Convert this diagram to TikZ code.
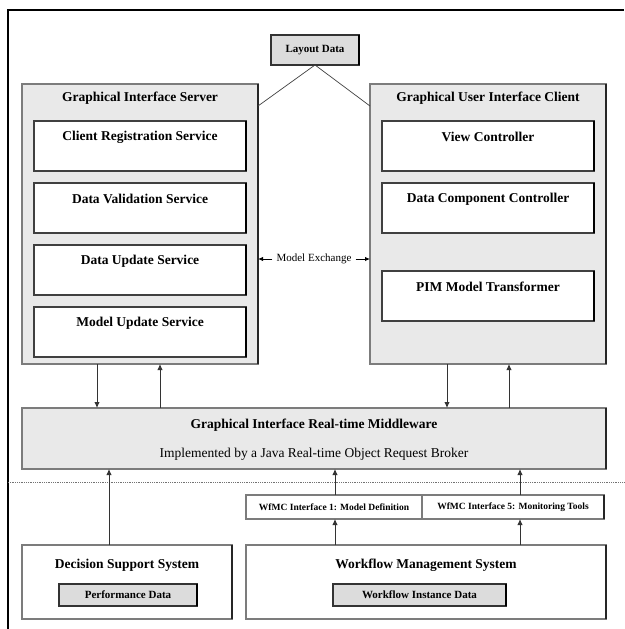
\documentclass[tikz,border=0pt]{standalone}
\usepackage{fontspec}
\setmainfont{Liberation Serif}
\usetikzlibrary{arrows.meta}
\definecolor{panelfill}{HTML}{E9E9E9}
\definecolor{datafill}{HTML}{DCDCDC}
\definecolor{edgegray}{HTML}{7C7C7C}
\newcommand{\mkbx}[6]{\node[#1, anchor=north west, minimum width={(#5-#3)*1pt}, minimum height={(#6-#4)*1pt}] (#2) at (#3,#4) {};}
\tikzset{
  darkedge/.style={append after command={(\tikzlastnode.south east) edge[draw=#1, line width=1.2pt, -] (\tikzlastnode.north east)}},
  panelbox/.style={draw=edgegray, fill=panelfill, line width=1.2pt, inner sep=0pt, outer sep=0pt, darkedge=black!85},
  whitebox/.style={draw=black!75, fill=white, line width=1.1pt, inner sep=0pt, outer sep=0pt, darkedge=black},
  plainbox/.style={draw=edgegray, fill=white, line width=1.2pt, inner sep=0pt, outer sep=0pt, darkedge=black!85},
  databox/.style={draw=black!80, fill=datafill, line width=1.1pt, inner sep=0pt, outer sep=0pt, darkedge=black},
  ttl/.style={font=\fontsize{13.5}{15}\selectfont\bfseries, inner sep=1pt},
  sub/.style={font=\fontsize{13.5}{15}\selectfont, inner sep=1pt},
  lbl/.style={font=\fontsize{11}{12}\selectfont\bfseries, inner sep=1pt},
  tiny/.style={font=\fontsize{9.5}{11}\selectfont\bfseries, inner sep=1pt},
  mexstyle/.style={font=\fontsize{11}{12}\selectfont, inner sep=1pt},
  arr/.style={draw=black!80, line width=0.9pt, -{Latex[length=6pt,width=5.5pt]}},
  smallarr/.style={draw=black, line width=0.9pt, -{Latex[length=5pt,width=4.5pt]}},
  thinline/.style={draw=black!75, line width=0.7pt}
}
\begin{document}
\begin{tikzpicture}[x=1pt,y=-1pt]
\useasboundingbox (0,0) rectangle (624,629);
% frame
\draw[line width=1.3pt] (8,629) -- (8,10) -- (624,10);
% layout data
\mkbx{databox}{layout}{271}{35}{359}{65}
\node[lbl] (layoutT) at (layout.center) {Layout Data};
% server
\mkbx{panelbox}{server}{22}{84}{258}{364}
\node[ttl] (serverT) at (140,98) {Graphical Interface Server};
\mkbx{whitebox}{crs}{34}{121}{246}{171}
\node[ttl] (crsT) at (140,137) {Client Registration Service};
\mkbx{whitebox}{dvs}{34}{183}{246}{233}
\node[ttl] (dvsT) at (140,199) {Data Validation Service};
\mkbx{whitebox}{dus}{34}{245}{246}{295}
\node[ttl] (dusT) at (140,261) {Data Update Service};
\mkbx{whitebox}{mus}{34}{307}{246}{357}
\node[ttl] (musT) at (140,323) {Model Update Service};
% client
\mkbx{panelbox}{client}{370}{84}{606}{364}
\node[ttl] (clientT) at (488,98) {Graphical User Interface Client};
\mkbx{whitebox}{vc}{382}{121}{594}{171}
\node[ttl] (vcT) at (488,137) {View Controller};
\mkbx{whitebox}{dcc}{382}{183}{594}{233}
\node[ttl] (dccT) at (488,199) {Data Component Controller};
\mkbx{whitebox}{pim}{382}{271}{594}{321}
\node[ttl] (pimT) at (488,287) {PIM Model Transformer};
% layout data links
\coordinate (sjoin) at (258,106);
\coordinate (cjoin) at (370,106);
\draw[thinline] (layout.south) -- (sjoin);
\draw[thinline] (layout.south) -- (cjoin);
% model exchange
\node[mexstyle] (mex) at (314,259) {Model Exchange};
\draw[smallarr] ([xshift=-3pt]mex.west) -- (mex.west -| server.east);
\draw[smallarr] ([xshift=3pt]mex.east) -- (mex.east -| client.west);
% middleware
\mkbx{panelbox}{mw}{22}{408}{606}{469}
\node[ttl] (mwT) at (314,425) {Graphical Interface Real-time Middleware};
\node[sub] (mwS) at (314,454) {Implemented by a Java Real-time Object Request Broker};
% vertical arrow positions
\coordinate (xa) at (97,0);
\coordinate (xb) at (160,0);
\coordinate (xc) at (447,0);
\coordinate (xd) at (509,0);
\coordinate (xe) at (109,0);
\coordinate (xf) at (335,0);
\coordinate (xg) at (520,0);
\draw[arr] (server.south -| xa) -- (mw.north -| xa);
\draw[arr] (mw.north -| xb) -- (server.south -| xb);
\draw[arr] (client.south -| xc) -- (mw.north -| xc);
\draw[arr] (mw.north -| xd) -- (client.south -| xd);
% dotted separator
\draw[densely dotted, black!55, line width=0.8pt] (8,482) -- (624,482);
% WfMC interfaces
\mkbx{plainbox}{wf1}{246}{495}{422}{519}
\node[tiny] (wf1T) at (wf1.center) {WfMC Interface 1: Model Definition};
\mkbx{plainbox}{wf2}{422}{495}{604}{519}
\node[tiny] (wf2T) at (wf2.center) {WfMC Interface 5: Monitoring Tools};
% lower systems
\mkbx{plainbox}{dss}{22}{545}{232}{619}
\node[ttl] (dssT) at (127,565) {Decision Support System};
\mkbx{databox}{perf}{59}{584}{197}{606}
\node[lbl] (perfT) at (perf.center) {Performance Data};
\mkbx{plainbox}{wms}{246}{545}{606}{619}
\node[ttl] (wmsT) at (426,565) {Workflow Management System};
\mkbx{databox}{wid}{333}{584}{506}{606}
\node[lbl] (widT) at (wid.center) {Workflow Instance Data};
% upward arrows
\draw[arr] (dss.north -| xe) -- (mw.south -| xe);
\draw[arr] (wf1.north -| xf) -- (mw.south -| xf);
\draw[arr] (wf2.north -| xg) -- (mw.south -| xg);
\draw[arr] (wms.north -| xf) -- (wf1.south -| xf);
\draw[arr] (wms.north -| xg) -- (wf2.south -| xg);
\end{tikzpicture}
\end{document}
